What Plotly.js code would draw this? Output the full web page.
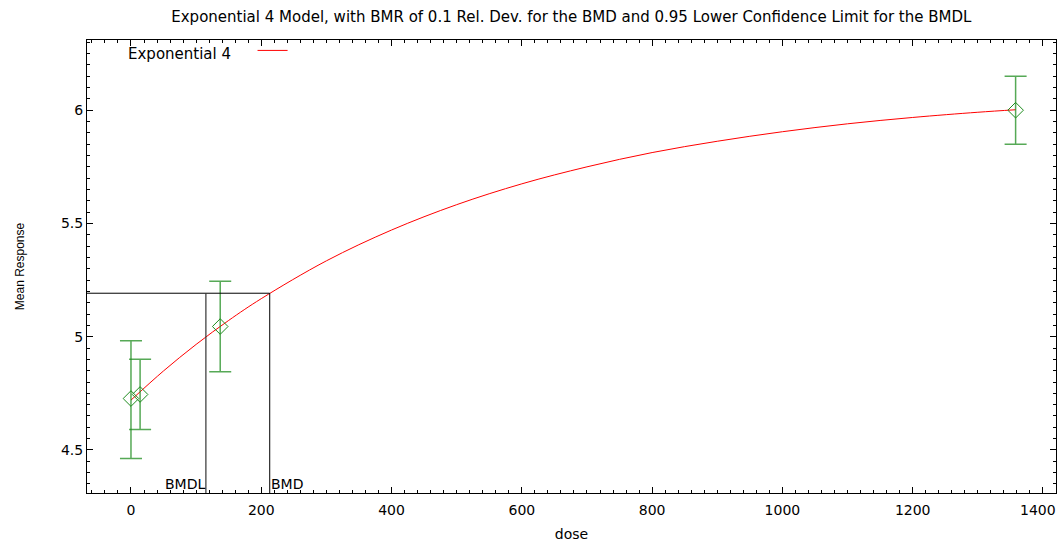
<!DOCTYPE html>
<html>
<head>
<meta charset="utf-8">
<script src="https://cdn.plot.ly/plotly-3.0.1.min.js"></script>
<style>html,body{margin:0;padding:0;background:#fff;}#chart{width:1058px;height:542px;}</style>
</head>
<body>
<div id="chart"></div>
<script>
const doses = [0, 14, 137, 1358];
const means = [4.727, 4.745, 5.045, 6.0];
const errUpper = [0.255, 0.155, 0.2, 0.15];
const errLower = [0.265, 0.155, 0.2, 0.15];

// Fitted Exponential 4 curve
const curveDose = [0, 50, 100, 150, 200, 300, 400, 500, 600, 700, 800, 900, 1000, 1100, 1200, 1300, 1358];
const curveResp = [4.72, 4.849, 4.966, 5.072, 5.168, 5.335, 5.471, 5.583, 5.675, 5.750, 5.813, 5.863, 5.905, 5.940, 5.968, 5.991, 6.002];

// BMD / BMDL
const bmd = 213;
const bmdl = 115;
const bmdResponse = 5.192;

// Tick labels
const xTickVals = [0, 200, 400, 600, 800, 1000, 1200, 1400];
const xTickText = ['0', '200', '400', '600', '800', '1000', '1200', ''];
const lastXTickLabel = '1400';

const xRange = [-67.5, 1420];
const yRange = [4.31, 6.31];

const font = 'DejaVu Sans, Liberation Sans, Arial, sans-serif';
const fontNarrow = 'Liberation Sans, Arial, sans-serif';

const traces = [
  {
    x: curveDose, y: curveResp, mode: 'lines', type: 'scatter',
    line: {color: 'rgb(255,0,0)', width: 1, shape: 'spline'},
    hoverinfo: 'skip', showlegend: false
  },
  {
    x: doses, y: means, mode: 'markers', type: 'scatter',
    marker: {symbol: 'diamond-open', size: 12, color: 'rgb(30,140,30)', line: {width: 1, color: 'rgb(30,140,30)'}},
    error_y: {type: 'data', symmetric: false, array: errUpper, arrayminus: errLower,
              color: 'rgba(30,140,30,0.75)', thickness: 1.5, width: 11},
    showlegend: false
  },
  {
    x: [xRange[0], bmd], y: [bmdResponse, bmdResponse], mode: 'lines', type: 'scatter',
    line: {color: 'black', width: 1}, showlegend: false, hoverinfo: 'skip'
  },
  {
    x: [bmdl, bmdl], y: [yRange[0], bmdResponse], mode: 'lines', type: 'scatter',
    line: {color: '#333', width: 1.2}, showlegend: false, hoverinfo: 'skip'
  },
  {
    x: [bmd, bmd], y: [yRange[0], bmdResponse], mode: 'lines', type: 'scatter',
    line: {color: 'black', width: 1}, showlegend: false, hoverinfo: 'skip'
  }
];

const axisCommon = {
  showline: true, linecolor: 'black', linewidth: 1, mirror: 'allticks',
  ticks: 'inside', ticklen: 6, tickcolor: 'black', tickwidth: 1,
  showgrid: false, zeroline: false,
  tickfont: {family: font, size: 14, color: '#000'}
};

const layout = {
  width: 1058, height: 542,
  margin: {l: 87, r: 2, t: 40, b: 49},
  paper_bgcolor: 'white', plot_bgcolor: 'white',
  font: {family: font, color: '#000'},
  title: {text: 'Exponential 4 Model, with BMR of 0.1 Rel. Dev. for the BMD and 0.95 Lower Confidence Limit for the BMDL',
          font: {family: font, size: 15, color: '#000'}, x: 0.54, xanchor: 'center', y: 0.9686, yanchor: 'middle'},
  xaxis: Object.assign({}, axisCommon, {
    range: xRange, tickmode: 'array', tickvals: xTickVals, ticktext: xTickText, ticklabelstandoff: 4,
    minor: {ticks: 'inside', ticklen: 3, dtick: 20, tick0: 0, tickcolor: 'black', showgrid: false},
    title: {text: 'dose', font: {family: font, size: 14}, standoff: 16}
  }),
  yaxis: Object.assign({}, axisCommon, {
    range: yRange, tick0: 4.5, dtick: 0.5,
    minor: {ticks: 'inside', ticklen: 3, dtick: 0.05, tickcolor: 'black', showgrid: false},
    title: {text: 'Mean Response', font: {family: fontNarrow, size: 12}, standoff: 33}
  }),
  annotations: [
    {x: bmdl, y: yRange[0], xref: 'x', yref: 'y', text: 'BMDL', showarrow: false,
     xanchor: 'right', yanchor: 'bottom', font: {family: font, size: 14}, yshift: -1, xshift: 1},
    {x: bmd, y: yRange[0], xref: 'x', yref: 'y', text: 'BMD', showarrow: false,
     xanchor: 'left', yanchor: 'bottom', font: {family: font, size: 14}, yshift: -1, xshift: -1},
    {x: 1, y: 0, xref: 'paper', yref: 'paper', text: lastXTickLabel, showarrow: false,
     xanchor: 'right', yanchor: 'top', font: {family: font, size: 14}, xshift: 2, yshift: -7},
    {x: 0.04, y: 0.97, xref: 'paper', yref: 'paper', text: 'Exponential 4', showarrow: false,
     xanchor: 'left', yanchor: 'middle', font: {family: font, size: 15}}
  ],
  shapes: [
    {type: 'line', xref: 'paper', yref: 'paper', x0: 0.176, x1: 0.207, y0: 0.977, y1: 0.977,
     line: {color: 'rgb(255,0,0)', width: 1}}
  ]
};

Plotly.newPlot('chart', traces, layout, {displayModeBar: false, staticPlot: true});
</script>
</body>
</html>
